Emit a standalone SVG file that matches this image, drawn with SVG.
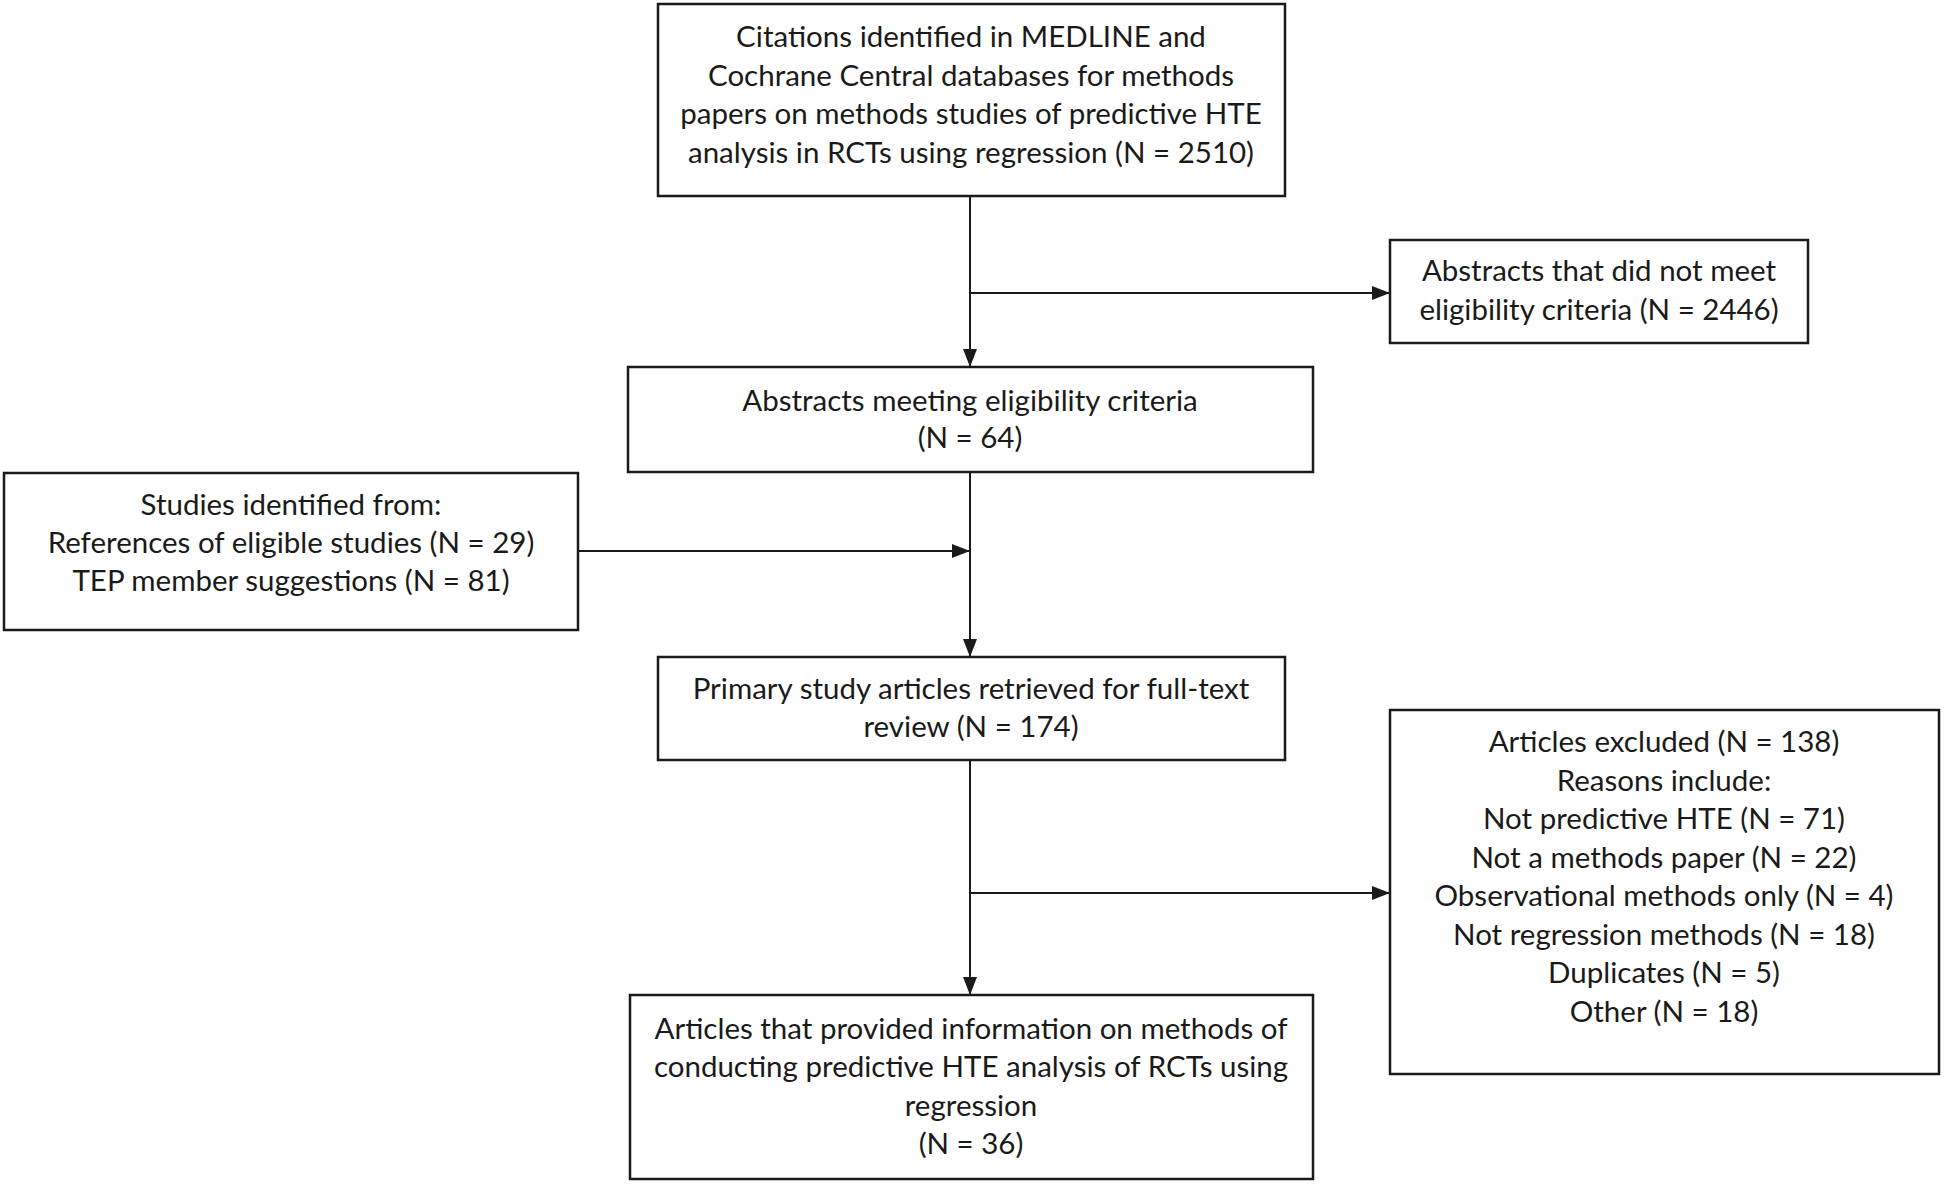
<svg xmlns="http://www.w3.org/2000/svg" width="1946" height="1188" viewBox="0 0 1946 1188">
<style>
.box{fill:#fff;stroke:#1a1a1a;stroke-width:2.5}
.t{font-family:Lato,"Liberation Sans",sans-serif;font-size:29.5px;fill:#1a1a1a;text-anchor:middle}
.c{stroke:#1a1a1a;stroke-width:2;fill:none}
</style>
<defs>
<marker id="ah2" markerWidth="18" markerHeight="14" refX="18" refY="7" orient="auto" markerUnits="userSpaceOnUse">
<path d="M0,0 L18,7 L0,14 z" fill="#1a1a1a"/>
</marker>
</defs>
<rect width="1946" height="1188" fill="#fff"/>
<g id="connectors">
<line class="c" x1="970" y1="196" x2="970" y2="367" marker-end="url(#ah2)"/>
<line class="c" x1="970" y1="293" x2="1390" y2="293" marker-end="url(#ah2)"/>
<line class="c" x1="578" y1="551" x2="970" y2="551" marker-end="url(#ah2)"/>
<line class="c" x1="970" y1="472" x2="970" y2="657" marker-end="url(#ah2)"/>
<line class="c" x1="970" y1="760" x2="970" y2="995" marker-end="url(#ah2)"/>
<line class="c" x1="970" y1="893" x2="1390" y2="893" marker-end="url(#ah2)"/>
</g>
<g id="citations">
<rect class="box" x="658" y="4" width="627" height="192"/>
<text class="t" x="971" y="47">Citations identified in MEDLINE and</text>
<text class="t" x="971" y="85.5">Cochrane Central databases for methods</text>
<text class="t" x="971" y="124">papers on methods studies of predictive HTE</text>
<text class="t" x="971" y="162.5">analysis in RCTs using regression (N = 2510)</text>
</g>
<g id="abstracts-excluded">
<rect class="box" x="1390" y="240" width="418" height="103"/>
<text class="t" x="1599" y="281">Abstracts that did not meet</text>
<text class="t" x="1599" y="319.5">eligibility criteria (N = 2446)</text>
</g>
<g id="abstracts-meeting">
<rect class="box" x="628" y="367" width="685" height="105"/>
<text class="t" x="970" y="410.5">Abstracts meeting eligibility criteria</text>
<text class="t" x="970" y="448">(N = 64)</text>
</g>
<g id="studies-identified">
<rect class="box" x="4" y="473" width="574" height="157"/>
<text class="t" x="291" y="514.5">Studies identified from:</text>
<text class="t" x="291" y="553">References of eligible studies (N = 29)</text>
<text class="t" x="291" y="591">TEP member suggestions (N = 81)</text>
</g>
<g id="primary-articles">
<rect class="box" x="658" y="657" width="627" height="103"/>
<text class="t" x="971" y="698.5">Primary study articles retrieved for full-text</text>
<text class="t" x="971" y="737">review (N = 174)</text>
</g>
<g id="articles-excluded">
<rect class="box" x="1390" y="710" width="549" height="364"/>
<text class="t" x="1664" y="752">Articles excluded (N = 138)</text>
<text class="t" x="1664" y="790.5">Reasons include:</text>
<text class="t" x="1664" y="829">Not predictive HTE (N = 71)</text>
<text class="t" x="1664" y="867.5">Not a methods paper (N = 22)</text>
<text class="t" x="1664" y="906">Observational methods only (N = 4)</text>
<text class="t" x="1664" y="944.5">Not regression methods (N = 18)</text>
<text class="t" x="1664" y="983">Duplicates (N = 5)</text>
<text class="t" x="1664" y="1021.5">Other (N = 18)</text>
</g>
<g id="articles-included">
<rect class="box" x="630" y="995" width="683" height="184"/>
<text class="t" x="971" y="1038.5">Articles that provided information on methods of</text>
<text class="t" x="971" y="1077">conducting predictive HTE analysis of RCTs using</text>
<text class="t" x="971" y="1115.5">regression</text>
<text class="t" x="971" y="1154">(N = 36)</text>
</g>
</svg>
